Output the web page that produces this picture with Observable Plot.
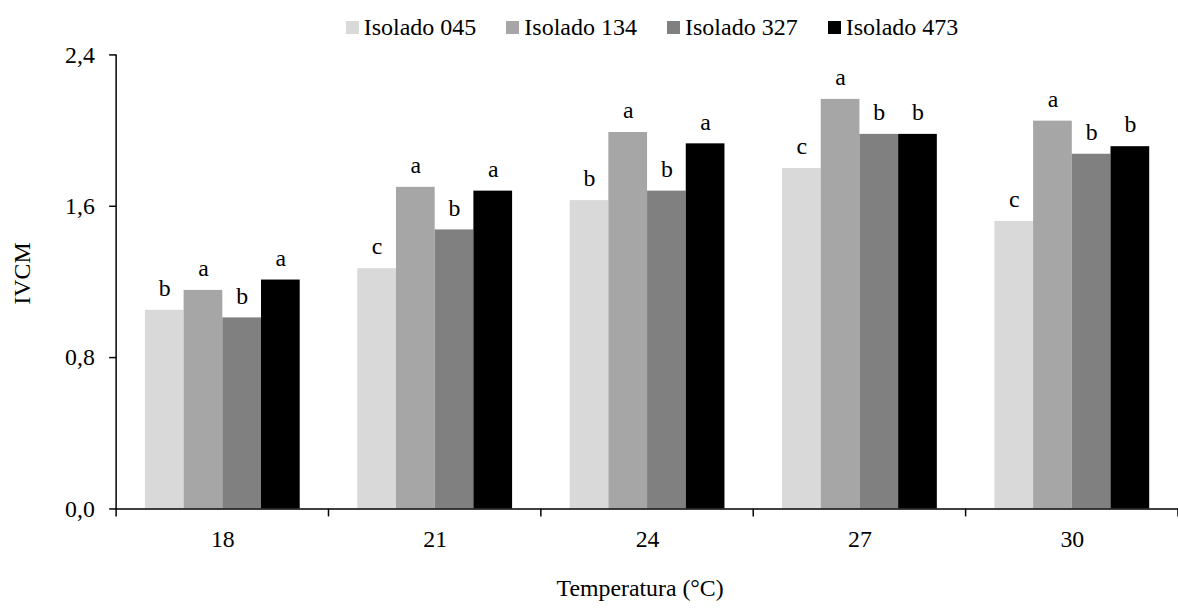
<!DOCTYPE html>
<html>
<head>
<meta charset="utf-8">
<script src="https://cdn.jsdelivr.net/npm/d3@7"></script>
<script src="https://cdn.jsdelivr.net/npm/@observablehq/plot@0.6"></script>
<style>
  html, body { margin: 0; padding: 0; background: #fff; }
  #wrap { width: 1178px; height: 610px; overflow: hidden; position: relative; font-family: "Liberation Serif", "Times New Roman", serif; }
  #legend { position: absolute; left: 117px; width: 1070px; top: 13px; height: 28px; display: flex; justify-content: center; align-items: center; font-size: 24px; line-height: 26px; color: #000; }
  .item { display: flex; align-items: center; margin: 0 15px; }
  .sw { width: 13px; height: 13px; margin-right: 5px; }
  #chart { position: absolute; left: 0; top: 45px; }
</style>
</head>
<body>
<div id="wrap">
  <div id="legend"></div>
  <div id="chart"></div>
</div>
<script>
const temps = ["18", "21", "24", "27", "30"];
const isolados = ["Isolado 045", "Isolado 134", "Isolado 327", "Isolado 473"];
const colors = ["#d9d9d9", "#a6a6a6", "#808080", "#000000"];
const v045 = [1.05, 1.27, 1.63, 1.80, 1.52];
const v134 = [1.155, 1.70, 1.99, 2.165, 2.05];
const v327 = [1.01, 1.475, 1.68, 1.98, 1.875];
const v473 = [1.21, 1.68, 1.93, 1.98, 1.915];
const l045 = ["b", "c", "b", "c", "c"];
const l134 = ["a", "a", "a", "a", "a"];
const l327 = ["b", "b", "b", "b", "b"];
const l473 = ["a", "a", "a", "b", "b"];
const yTicks = [0, 0.8, 1.6, 2.4];
const xTitle = "Temperatura (°C)";
const yTitle = "IVCM";

const seriesValues = [v045, v134, v327, v473];
const seriesLetters = [l045, l134, l327, l473];
const data = [];
temps.forEach((t, ti) => {
  isolados.forEach((iso, si) => {
    data.push({temp: t, isolado: iso, value: seriesValues[si][ti], letter: seriesLetters[si][ti]});
  });
});

// legend
const legend = document.getElementById("legend");
isolados.forEach((iso, i) => {
  const it = document.createElement("div");
  it.className = "item";
  const sw = document.createElement("div");
  sw.className = "sw";
  sw.style.background = colors[i];
  const tx = document.createElement("span");
  tx.textContent = iso;
  it.appendChild(sw); it.appendChild(tx);
  legend.appendChild(it);
});

const W = 1187, H = 565, ML = 117, MB = 98, MT = 9.5, MR = 0;
const fmt = d => d.toFixed(1).replace(".", ",");

const chart = Plot.plot({
  width: W,
  height: H,
  marginLeft: ML,
  marginRight: MR,
  marginTop: MT,
  marginBottom: MB,
  style: {fontFamily: "Liberation Serif, Times New Roman, serif", fontSize: "24px", color: "#000", background: "#fff", overflow: "visible"},
  fx: {domain: temps, padding: 0, label: null},
  x: {domain: isolados, paddingInner: 0, paddingOuter: 0.74, axis: null},
  y: {domain: [0, 2.4], label: null},
  color: {domain: isolados, range: colors},
  marks: [
    Plot.barY(data, {fx: "temp", x: "isolado", y: "value", fill: "isolado"}),
    Plot.text(data, {fx: "temp", x: "isolado", y: "value", text: "letter", dy: -22, fontSize: 24, fill: "#000"}),
    Plot.ruleY([0], {stroke: "#000", strokeWidth: 1.5}),
    Plot.axisY({ticks: yTicks, tickFormat: fmt, tickSize: 7, tickPadding: 15, label: null, fontSize: 24, stroke: "#000", strokeWidth: 1.5}),
    Plot.axisFx({anchor: "bottom", tickSize: 0, tickPadding: 21, label: null, fontSize: 24})
  ]
});

document.getElementById("chart").appendChild(chart);

// axis line on the left and group-boundary ticks, positioned from the Plot scales
const ys = chart.scale("y");
const fxs = chart.scale("fx");
const svg = d3.select(chart);
const y0 = ys.apply(0), yTop = ys.apply(yTicks[yTicks.length - 1]);
const x0 = fxs.apply(temps[0]);
svg.append("line")
  .attr("x1", x0).attr("x2", x0).attr("y1", y0 + 0.75).attr("y2", yTop)
  .attr("stroke", "#000").attr("stroke-width", 1.5);
const bounds = temps.map(t => fxs.apply(t)).concat([fxs.apply(temps[temps.length - 1]) + fxs.bandwidth]);
bounds.forEach(b => {
  svg.append("line")
    .attr("x1", b).attr("x2", b).attr("y1", y0).attr("y2", y0 + 8)
    .attr("stroke", "#000").attr("stroke-width", 1.5);
});
// titles
const xMid = (fxs.apply(temps[0]) + fxs.apply(temps[temps.length - 1]) + fxs.bandwidth) / 2;
svg.append("text")
  .attr("x", xMid - 7).attr("y", 555)
  .attr("text-anchor", "middle")
  .attr("font-size", 24)
  .attr("fill", "#000")
  .text(xTitle);
svg.append("text")
  .attr("transform", `translate(22, ${(y0 + yTop) / 2 - 8}) rotate(-90)`)
  .attr("text-anchor", "middle")
  .attr("dy", "0.35em")
  .attr("font-size", 24)
  .attr("fill", "#000")
  .text(yTitle);
</script>
</body>
</html>
